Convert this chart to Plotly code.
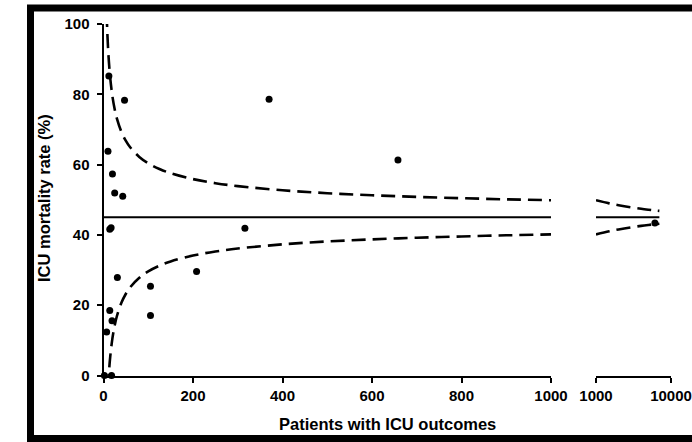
import plotly.graph_objects as go

# ---- data ----
# hospitals: patients with ICU outcomes, ICU mortality rate (%)
units_n = [12, 47, 10, 20, 25, 43, 14, 17, 31, 105, 208, 105, 14, 19, 7, 2, 18, 316, 370, 658]
units_rate = [85.2, 78.3, 63.8, 57.3, 51.9, 51.0, 41.6, 42.0, 27.9, 25.4, 29.6, 17.1, 18.5, 15.6, 12.4, 0.0, 0.0, 41.9, 78.6, 61.3]
# the large unit shown on the right (log) panel
big_n = [6100]
big_rate = [43.4]

mean_rate = 45.0

# control limits read along the funnel (panel 0-1000)
upper_n = [7, 8, 10, 12, 15, 20, 25, 30, 40, 50, 60, 80, 100, 125, 150, 200, 250, 300, 400, 500, 600, 700, 800, 900, 1000]
upper_v = [103.1, 99.35, 93.61, 89.38, 84.69, 79.37, 75.75, 73.07, 69.31, 66.74, 64.85, 62.19, 60.37, 58.75, 57.55, 55.87,
           54.72, 53.88, 52.69, 51.87, 51.28, 50.81, 50.44, 50.12, 49.86]
lower_n = [10, 12, 15, 20, 25, 30, 40, 50, 60, 80, 100, 125, 150, 200, 250, 300, 400, 500, 600, 700, 800, 900, 1000]
lower_v = [-3.6, 0.62, 5.31, 10.63, 14.25, 16.93, 20.69, 23.26, 25.15, 27.81, 29.63, 31.25, 32.45, 34.13, 35.28, 36.12,
           37.31, 38.13, 38.72, 39.19, 39.56, 39.88, 40.14]
# control limits on the log panel (1000-10000)
log_n = [1000, 1500, 2000, 3000, 4000, 5000, 6000, 7000]
log_upper = [49.86, 48.97, 48.44, 47.81, 47.43, 47.17, 46.98, 46.84]
log_lower = [40.14, 41.03, 41.56, 42.19, 42.57, 42.83, 43.02, 43.16]

x1_ticks = [0, 200, 400, 600, 800, 1000]
x2_ticks = [1000, 10000]
y_ticks = [0, 20, 40, 60, 80, 100]

BLACK = "#000000"
FONT = "Liberation Sans, Arial, sans-serif"
dash_style = dict(color=BLACK, width=2.6, dash="14px,7px")

fig = go.Figure()

# panel 1
fig.add_trace(go.Scatter(x=[0, 1000], y=[mean_rate, mean_rate], mode="lines",
                         line=dict(color=BLACK, width=2), xaxis="x", yaxis="y", showlegend=False))
fig.add_trace(go.Scatter(x=upper_n, y=upper_v, mode="lines", line=dict(shape="spline", **dash_style),
                         xaxis="x", yaxis="y", showlegend=False))
fig.add_trace(go.Scatter(x=lower_n, y=lower_v, mode="lines", line=dict(shape="spline", **dash_style),
                         xaxis="x", yaxis="y", showlegend=False))
fig.add_trace(go.Scatter(x=units_n, y=units_rate, mode="markers", marker=dict(color=BLACK, size=7),
                         cliponaxis=False, xaxis="x", yaxis="y", showlegend=False))

# panel 2 (log)
fig.add_trace(go.Scatter(x=[log_n[0], log_n[-1]], y=[mean_rate, mean_rate], mode="lines",
                         line=dict(color=BLACK, width=2), xaxis="x2", yaxis="y", showlegend=False))
fig.add_trace(go.Scatter(x=log_n, y=log_upper, mode="lines", line=dict(shape="spline", **dash_style),
                         xaxis="x2", yaxis="y", showlegend=False))
fig.add_trace(go.Scatter(x=log_n, y=log_lower, mode="lines", line=dict(shape="spline", **dash_style),
                         xaxis="x2", yaxis="y", showlegend=False))
fig.add_trace(go.Scatter(x=big_n, y=big_rate, mode="markers", marker=dict(color=BLACK, size=7),
                         cliponaxis=False, xaxis="x2", yaxis="y", showlegend=False))

W, H = 692, 442
axis_common = dict(showline=True, linecolor=BLACK, linewidth=2, ticks="outside", ticklen=5,
                   tickcolor=BLACK, tickwidth=2, showgrid=False, zeroline=False,
                   tickfont=dict(size=15, color=BLACK, family=FONT))

fig.update_layout(
    width=W, height=H,
    margin=dict(l=0, r=0, t=0, b=0, autoexpand=False),
    paper_bgcolor="white", plot_bgcolor="white",
    font=dict(family=FONT, color=BLACK),
    xaxis=dict(domain=[103.5 / W, 551 / W], range=[0, 1000], tickvals=x1_ticks,
               ticktext=["<b>%d</b>" % v for v in x1_ticks], anchor="y", **axis_common),
    xaxis2=dict(domain=[596 / W, 671 / W], type="log", range=[3, 4], tickvals=x2_ticks,
                ticktext=["<b>%d</b>" % v for v in x2_ticks], anchor="y", **axis_common),
    yaxis=dict(domain=[(H - 375.5) / H, (H - 24) / H], range=[0, 100], tickvals=y_ticks,
               ticktext=["<b>%d</b>" % v for v in y_ticks], anchor="x", ticklabelstandoff=4, **axis_common),
    shapes=[dict(type="rect", xref="paper", yref="paper",
                 x0=30.5 / W, x1=1.05, y0=1 - 438.5 / H, y1=1 - 8 / H,
                 line=dict(color=BLACK, width=7), fillcolor="rgba(0,0,0,0)", layer="above")],
    annotations=[
        dict(text="<b>Patients with ICU outcomes</b>", xref="paper", yref="paper",
             x=387 / W, y=1 - 424 / H, showarrow=False, xanchor="center", yanchor="middle",
             font=dict(size=16.5, color=BLACK, family=FONT)),
        dict(text="<b>ICU mortality rate (%)</b>", xref="paper", yref="paper",
             x=44 / W, y=1 - 198 / H, showarrow=False, textangle=-90, xanchor="center", yanchor="middle",
             font=dict(size=16.5, color=BLACK, family=FONT)),
    ],
)

fig.write_html("out.html")
